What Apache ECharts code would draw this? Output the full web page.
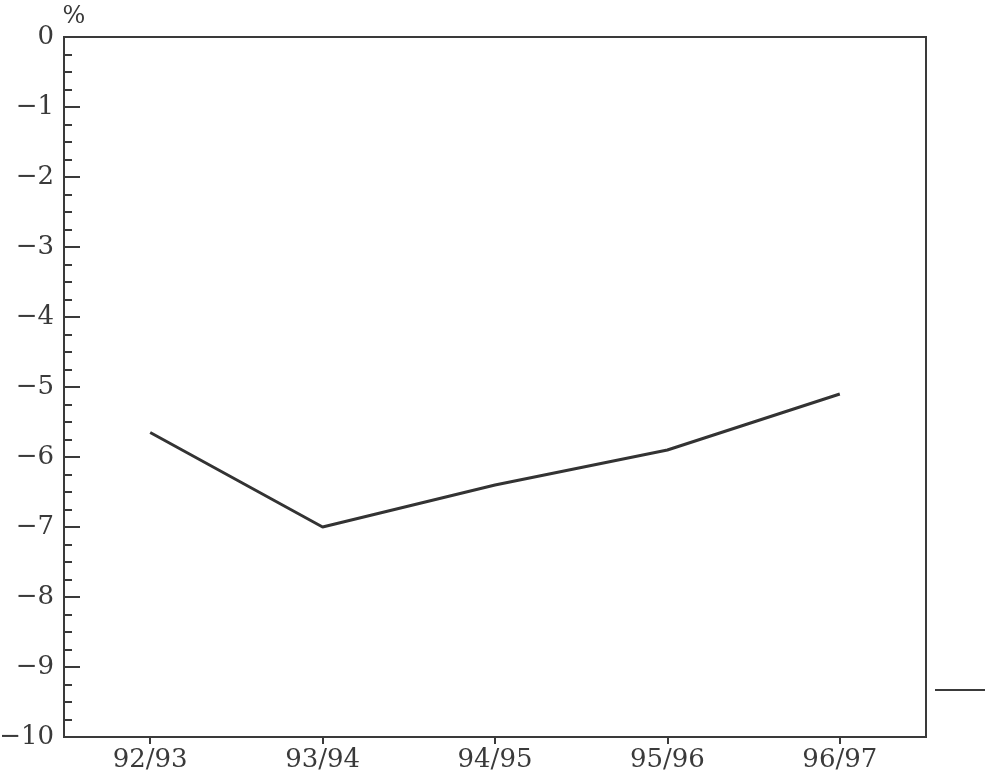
<!DOCTYPE html>
<html>
<head>
<meta charset="utf-8">
<script src="https://cdn.jsdelivr.net/npm/echarts@6/dist/echarts.min.js"></script>
<style>html,body{margin:0;padding:0;background:#fff}#c{width:986px;height:784px}</style>
</head>
<body>
<div id="c"></div>
<script>
const categories = ['92/93', '93/94', '94/95', '95/96', '96/97'];
const values = [-5.65, -7.0, -6.4, -5.9, -5.1];
const yMin = -10, yMax = 0, yStep = 1;
const unitLabel = '%';

const chart = echarts.init(document.getElementById('c'), null, {renderer: 'canvas'});
const font = '"DejaVu Serif", "Liberation Serif", serif';
const ink = '#3a3a3a';
chart.setOption({
  animation: false,
  backgroundColor: '#fff',
  grid: {left: 64, right: 60, top: 37, bottom: 47, show: true, borderColor: ink, borderWidth: 2,
    backgroundColor: 'transparent', containLabel: false, outerBoundsMode: 'none'},
  xAxis: {
    type: 'category', data: categories, boundaryGap: true,
    axisLine: {show: true, onZero: false, lineStyle: {color: ink, width: 2}},
    axisTick: {show: true, alignWithLabel: true, length: 7, lineStyle: {color: ink, width: 2}},
    axisLabel: {color: ink, fontFamily: font, fontSize: 26, margin: 10}
  },
  yAxis: {
    type: 'value', min: yMin, max: yMax, interval: yStep,
    name: unitLabel, nameLocation: 'end', nameGap: 8,
    nameTextStyle: {color: ink, fontFamily: font, fontSize: 24, align: 'center', padding: [0, 0, 0, 20]},
    axisLine: {show: true, lineStyle: {color: ink, width: 2}},
    axisTick: {show: true, inside: true, length: 16, lineStyle: {color: ink, width: 2}},
    minorTick: {show: true, splitNumber: 4, length: 8, lineStyle: {color: ink, width: 2}},
    splitLine: {show: false},
    axisLabel: {color: ink, fontFamily: font, fontSize: 26, margin: 10,
      formatter: v => String(v).replace('-', '\u2212')}
  },
  series: [{
    type: 'line', data: values, symbol: 'none',
    lineStyle: {color: '#333', width: 3}
  }],
  graphic: [{
    type: 'line', shape: {x1: 935, y1: 690, x2: 985, y2: 690},
    style: {stroke: ink, lineWidth: 2}
  }]
});
</script>
</body>
</html>
